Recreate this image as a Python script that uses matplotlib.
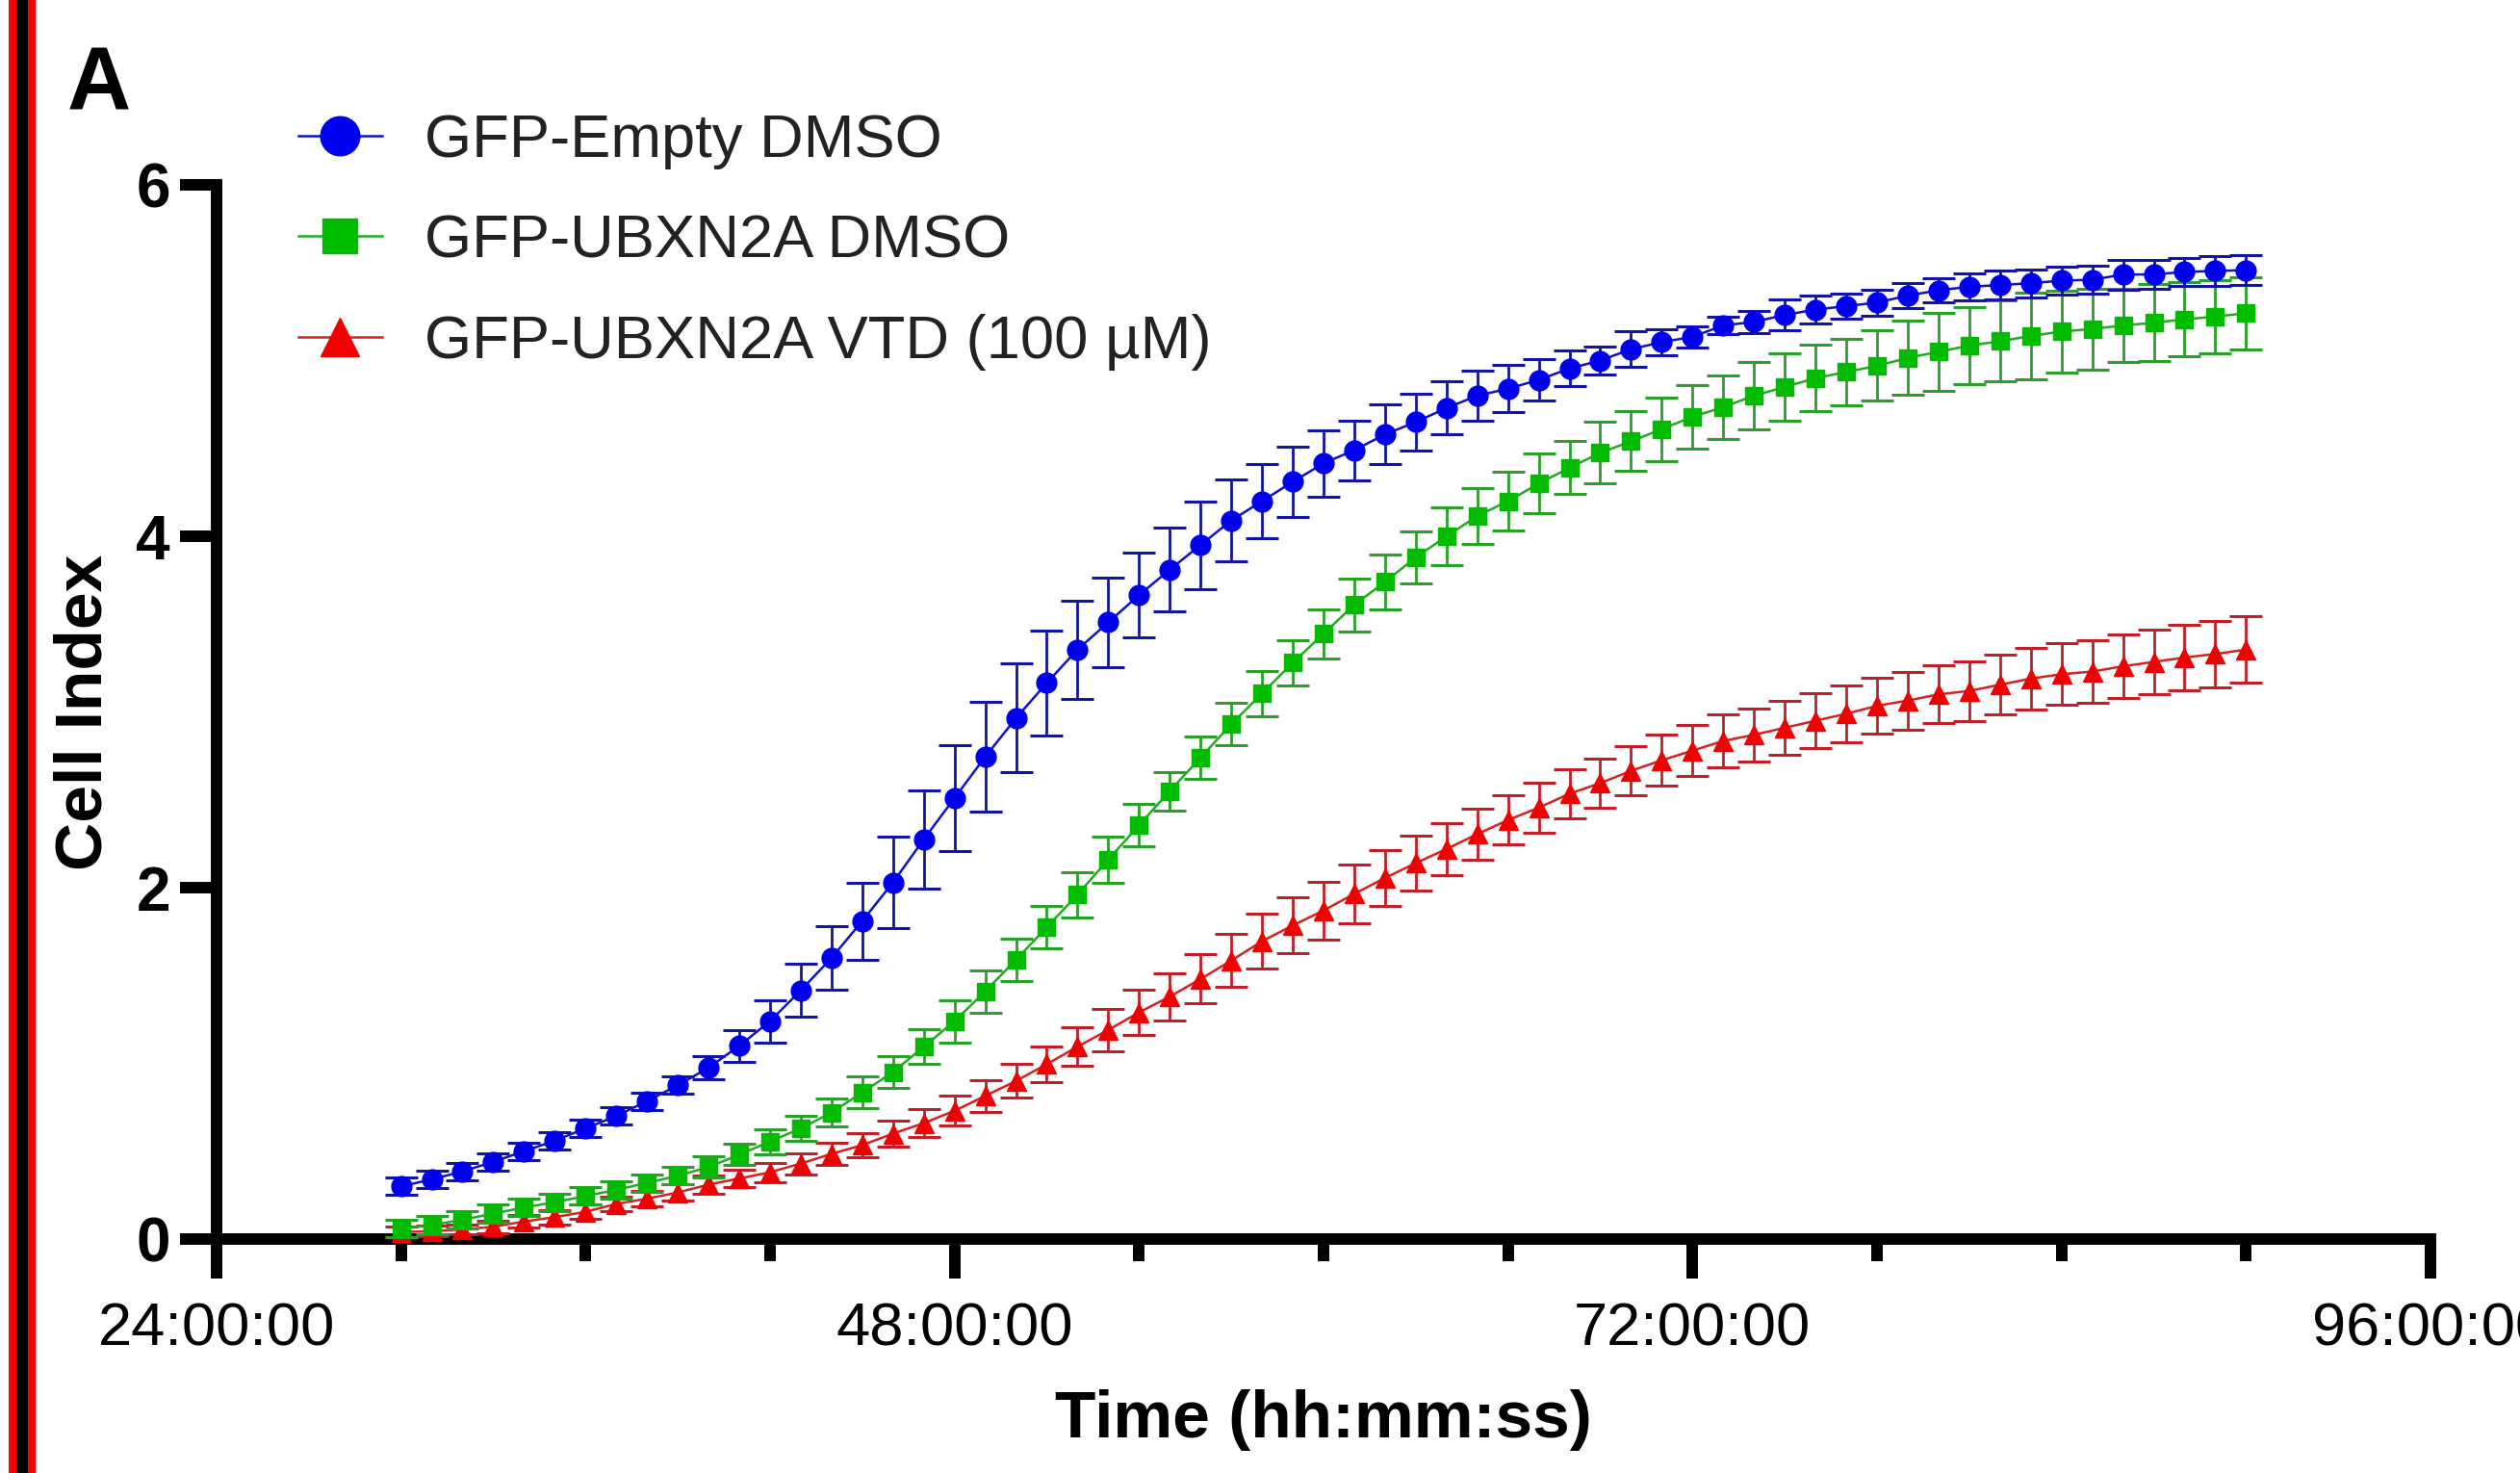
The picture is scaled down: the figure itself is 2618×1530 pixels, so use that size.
import numpy as np
import matplotlib
matplotlib.use("Agg")
import matplotlib.pyplot as plt
from matplotlib.patches import Rectangle
from matplotlib.ticker import MultipleLocator

plt.rcParams['font.family'] = ['Liberation Sans', 'DejaVu Sans']

# time points in hours (one reading per hour)
time_h = np.arange(30, 91)

labels = ["GFP-Empty DMSO", "GFP-UBXN2A DMSO", "GFP-UBXN2A VTD (100 µM)"]

empty_dmso = [0.30, 0.34, 0.385, 0.44, 0.50, 0.56, 0.63, 0.70, 0.785, 0.875,
              0.975, 1.10, 1.24, 1.415, 1.60, 1.81, 2.03, 2.275, 2.51, 2.745,
              2.965, 3.165, 3.355, 3.51, 3.665, 3.81, 3.95, 4.09, 4.20, 4.31,
              4.415, 4.49, 4.58, 4.65, 4.73, 4.80, 4.84, 4.89, 4.955, 5.00,
              5.065, 5.105, 5.135, 5.20, 5.22, 5.26, 5.29, 5.31, 5.33, 5.37,
              5.40, 5.42, 5.43, 5.44, 5.455, 5.46, 5.49, 5.49, 5.505, 5.51, 5.515]
empty_dmso_sd = [0.05, 0.05, 0.05, 0.05, 0.05, 0.05, 0.05, 0.05, 0.05, 0.05,
                 0.065, 0.09, 0.12, 0.15, 0.18, 0.22, 0.26, 0.28, 0.30, 0.31,
                 0.31, 0.30, 0.28, 0.255, 0.24, 0.24, 0.25, 0.235, 0.21, 0.20,
                 0.19, 0.17, 0.17, 0.16, 0.15, 0.14, 0.135, 0.12, 0.10, 0.08,
                 0.10, 0.075, 0.06, 0.05, 0.065, 0.09, 0.08, 0.07, 0.075, 0.07,
                 0.07, 0.075, 0.08, 0.08, 0.08, 0.08, 0.085, 0.08, 0.08, 0.085, 0.085]

ubxn2a_dmso = [0.06, 0.08, 0.11, 0.145, 0.18, 0.21, 0.245, 0.28, 0.32, 0.36,
               0.41, 0.48, 0.555, 0.63, 0.72, 0.835, 0.95, 1.095, 1.24, 1.41,
               1.59, 1.775, 1.96, 2.16, 2.355, 2.55, 2.74, 2.93, 3.105, 3.28,
               3.445, 3.61, 3.74, 3.88, 4.00, 4.115, 4.20, 4.30, 4.39, 4.475,
               4.54, 4.61, 4.68, 4.735, 4.80, 4.85, 4.90, 4.935, 4.97, 5.015,
               5.05, 5.085, 5.11, 5.14, 5.165, 5.18, 5.20, 5.215, 5.235, 5.25, 5.27]
ubxn2a_dmso_sd = [0.05, 0.05, 0.05, 0.05, 0.05, 0.05, 0.05, 0.05, 0.05, 0.05,
                  0.06, 0.06, 0.07, 0.07, 0.08, 0.09, 0.09, 0.10, 0.12, 0.12,
                  0.12, 0.12, 0.13, 0.13, 0.12, 0.11, 0.12, 0.12, 0.13, 0.13,
                  0.14, 0.15, 0.155, 0.15, 0.165, 0.16, 0.165, 0.17, 0.15, 0.175,
                  0.17, 0.18, 0.18, 0.18, 0.19, 0.19, 0.19, 0.19, 0.20, 0.21,
                  0.22, 0.22, 0.23, 0.245, 0.235, 0.23, 0.21, 0.22, 0.21, 0.21, 0.205]

ubxn2a_vtd = [0.04, 0.045, 0.055, 0.07, 0.10, 0.125, 0.155, 0.20, 0.23, 0.265,
              0.31, 0.345, 0.38, 0.43, 0.485, 0.535, 0.60, 0.66, 0.73, 0.815,
              0.90, 0.995, 1.095, 1.19, 1.29, 1.38, 1.48, 1.585, 1.695, 1.785,
              1.87, 1.965, 2.055, 2.14, 2.22, 2.305, 2.385, 2.455, 2.535, 2.595,
              2.665, 2.725, 2.78, 2.835, 2.87, 2.91, 2.95, 2.99, 3.035, 3.065,
              3.10, 3.12, 3.155, 3.19, 3.215, 3.23, 3.26, 3.285, 3.31, 3.33, 3.355]
ubxn2a_vtd_sd = [0.03, 0.03, 0.03, 0.035, 0.035, 0.04, 0.04, 0.04, 0.045, 0.045,
                 0.05, 0.05, 0.055, 0.06, 0.065, 0.07, 0.075, 0.08, 0.085, 0.09,
                 0.095, 0.10, 0.11, 0.12, 0.13, 0.135, 0.14, 0.15, 0.155, 0.16,
                 0.165, 0.165, 0.16, 0.155, 0.15, 0.145, 0.14, 0.14, 0.14, 0.14,
                 0.14, 0.145, 0.145, 0.15, 0.15, 0.155, 0.155, 0.16, 0.16, 0.165,
                 0.165, 0.17, 0.17, 0.175, 0.175, 0.18, 0.18, 0.185, 0.185, 0.19, 0.19]

xtick_pos = [24, 48, 72, 96]
xtick_labels = ["24:00:00", "48:00:00", "72:00:00", "96:00:00"]
ytick_pos = [0, 2, 4, 6]

fig = plt.figure(figsize=(26.18, 15.30), dpi=100)
ax = fig.add_axes([0.0859, 0.1588, 0.8786, 0.7157])

# red / black / red stripes along the left edge
fig.add_artist(Rectangle((9 / 2618, 0), 8 / 2618, 1, transform=fig.transFigure, color="#ff0000", lw=0))
fig.add_artist(Rectangle((17 / 2618, 0), 12 / 2618, 1, transform=fig.transFigure, color="black", lw=0))
fig.add_artist(Rectangle((29 / 2618, 0), 8 / 2618, 1, transform=fig.transFigure, color="#ff0000", lw=0))

series = [
    (empty_dmso, empty_dmso_sd, "o", 15, "#0000f0", "#1414a0", "#1010c8", 6),
    (ubxn2a_dmso, ubxn2a_dmso_sd, "s", 13.5, "#00bb00", "#2c9e2c", "#22aa22", 5),
    (ubxn2a_vtd, ubxn2a_vtd_sd, "^", 15, "#f00000", "#c0202a", "#d82020", 4),
]

handles = []
for (vals, sd, mk, ms, mc, ec, lc, z), lab in zip(series, labels):
    ax.errorbar(time_h, vals, yerr=sd, fmt="none", ecolor=ec, elinewidth=2.0,
                capsize=12, capthick=2.2, zorder=z, clip_on=False)
    ln, = ax.plot(time_h, vals, color=lc, lw=1.8, marker=mk, ms=ms, mfc=mc,
                  mec=mc, zorder=z + 0.5, clip_on=False, label=lab)
    handles.append(ln)

ax.set_xlim(24, 96)
ax.set_ylim(0, 6)
ax.set_xticks(xtick_pos)
ax.set_xticklabels(xtick_labels)
ax.xaxis.set_minor_locator(MultipleLocator(6))
ax.set_yticks(ytick_pos)

for s in ["top", "right"]:
    ax.spines[s].set_visible(False)
for s in ["left", "bottom"]:
    ax.spines[s].set_linewidth(8.6)

ax.tick_params(axis="x", which="major", length=29.5, width=8.6, pad=17, labelsize=45.5)
ax.tick_params(axis="x", which="minor", length=16.5, width=8.6)
ax.tick_params(axis="y", which="major", length=27.5, width=8.6, pad=7, labelsize=46)
for t in ax.get_yticklabels():
    t.set_fontweight("bold")

ax.set_xlabel("Time (hh:mm:ss)", fontsize=50, fontweight="bold")
ax.set_ylabel("Cell Index", fontsize=50, fontweight="bold")
ax.xaxis.set_label_coords(0.5, -0.1425)
ax.yaxis.set_label_coords(-0.046, 0.5)

leg = ax.legend(handles=handles, loc="upper left", bbox_to_anchor=(310 / 2618, 0.9237),
                bbox_transform=fig.transFigure, frameon=False, fontsize=45.5,
                handlelength=1.37, handletextpad=0.7, labelspacing=0.725,
                borderpad=0, borderaxespad=0, markerscale=1.95)
for t in leg.get_texts():
    t.set_color("#222222")

fig.text(70 / 2618, 1 - 46 / 1530, "A", fontsize=66, fontweight="bold", va="top", ha="left")

fig.savefig("out.png", dpi=100)
